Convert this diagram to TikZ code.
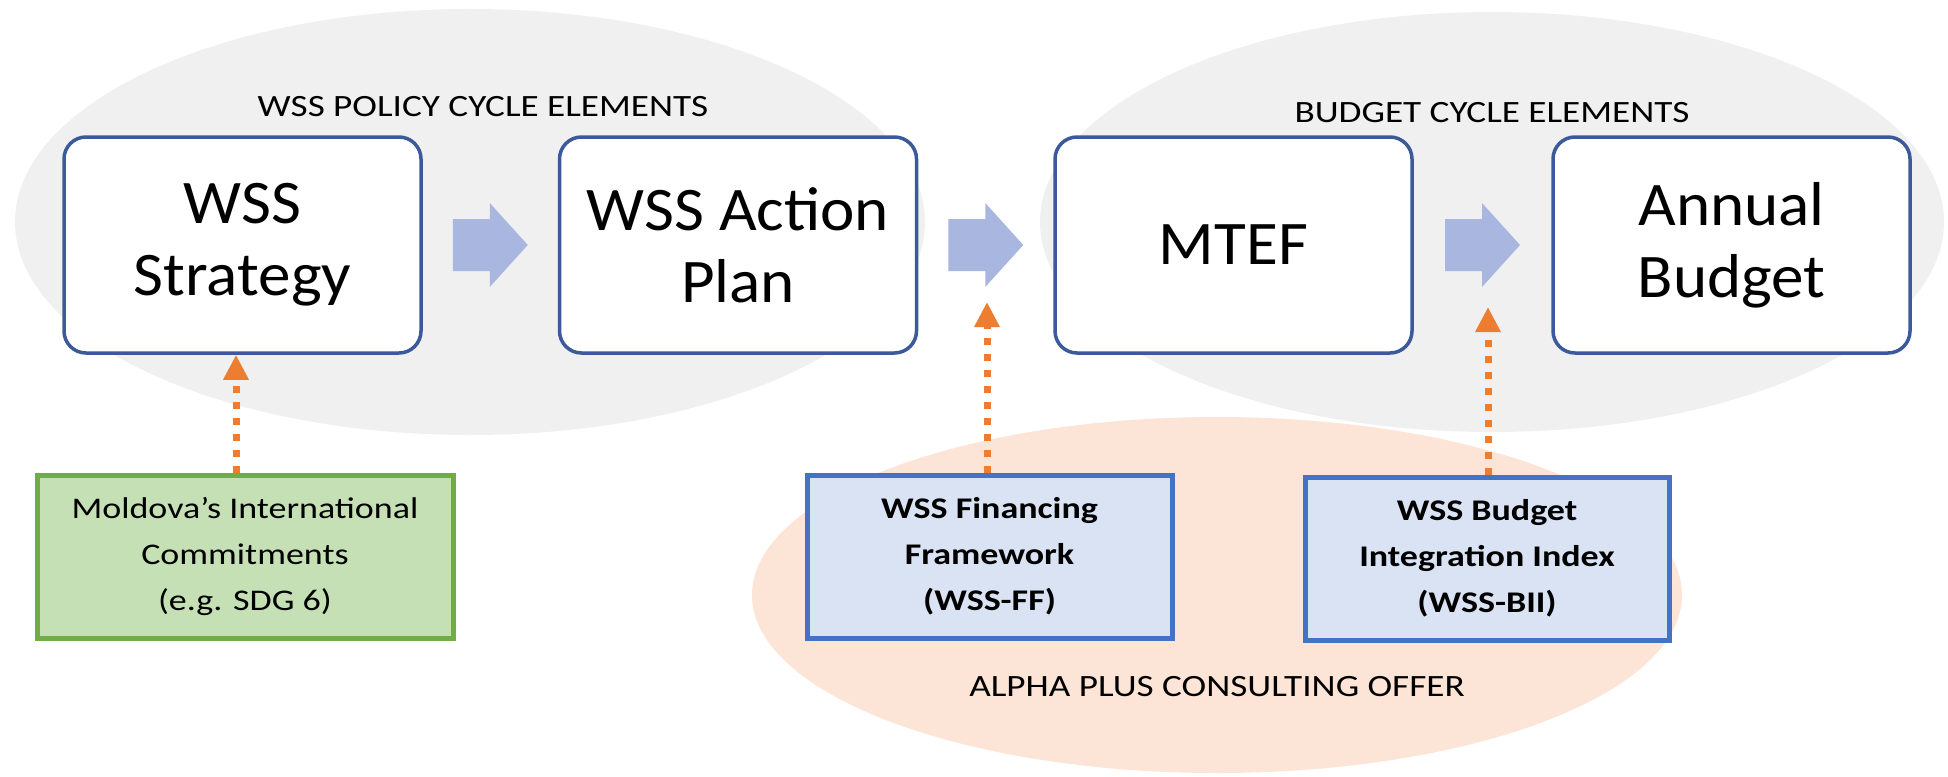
\documentclass[tikz,border=0pt]{standalone}
\usepackage{fontspec}
\setmainfont{Carlito}
\newfontfamily\widefont[FakeStretch=1.2]{Carlito}
\newfontfamily\bigfont[FakeStretch=1.05]{Carlito}
\usetikzlibrary{calc,arrows.meta}
\definecolor{greyell}{RGB}{240,240,240}
\definecolor{orangeell}{RGB}{252,228,214}
\definecolor{boxline}{RGB}{60,90,153}
\definecolor{arrowc}{RGB}{168,182,224}
\definecolor{orangec}{RGB}{237,125,49}
\definecolor{greenfill}{RGB}{197,224,180}
\definecolor{greenline}{RGB}{112,173,71}
\definecolor{bluefill}{RGB}{218,227,243}
\definecolor{blueline}{RGB}{68,114,196}
\newcommand\blockarrow[2]{%
  \fill[bigarrow] ($(#1.east)!0.5!(#2.west)$) ++(-37.5,-26) -- ++(37,0) -- ++(0,-16)
    -- ++(38,42) -- ++(-38,42) -- ++(0,-16) -- ++(-37,0) -- cycle;}
\begin{document}
\begin{tikzpicture}[x=1pt,y=-1pt,
  mainbox/.style={draw=boxline, line width=3.5pt, fill=white, rounded corners=22pt,
    minimum width=357pt, minimum height=216pt, align=center, inner sep=0pt,
    font=\bigfont\fontsize{62}{72}\selectfont},
  inputbox/.style={line width=5pt, align=center, inner sep=0pt,
    minimum height=163pt},
  greenbox/.style={inputbox, draw=greenline, fill=greenfill,
    font=\widefont\fontsize{30}{46}\selectfont},
  bluebox/.style={inputbox, draw=blueline, fill=bluefill,
    font=\widefont\bfseries\fontsize{30}{46}\selectfont},
  caption/.style={font=\widefont\fontsize{31}{36}\selectfont, inner sep=0pt},
  bigarrow/.style={fill=arrowc},
  dotarrow/.style={draw=orangec, line width=7pt, dash pattern=on 7pt off 9pt,
    -{Triangle[length=25pt,width=24pt]}}
]
\useasboundingbox (0,0) rectangle (1948,776);
\fill[white] (0,0) rectangle (1948,776);
% background ellipses
\fill[greyell] (470,222) ellipse [x radius=455, y radius=213];
\fill[greyell] (1492,222) ellipse [x radius=452, y radius=210];
\fill[orangeell] (1217,595) ellipse [x radius=465, y radius=178];
% captions
\node[caption] (cap1) at (483,107) {WSS POLICY CYCLE ELEMENTS};
\node[caption] (cap2) at (1492,113) {BUDGET CYCLE ELEMENTS};
\node[caption] (cap3) at (1217,687) {ALPHA PLUS CONSULTING OFFER};
% main boxes
\node[mainbox] (s1) at (242.5,245) {WSS\\Strategy};
\node[mainbox] (s2) at (738,245) {WSS Action\\Plan};
\node[mainbox] (s3) at (1233.5,245) {MTEF};
\node[mainbox] (s4) at (1731.5,245) {Annual\\Budget};
% block arrows
\blockarrow{s1}{s2}
\blockarrow{s2}{s3}
\blockarrow{s3}{s4}
% input boxes
\node[greenbox, minimum width=416pt] (mold) at (245,556.5) {Moldova’s International\\Commitments\\(e.g. SDG 6)};
\node[bluebox, minimum width=365pt] (ff) at (989.5,556.5) {WSS Financing\\Framework\\(WSS-FF)};
\node[bluebox, minimum width=364pt] (bii) at (1487,558.5) {WSS Budget\\Integration Index\\(WSS-BII)};
% dotted arrows
\coordinate (t2) at (987,302);
\coordinate (t3) at (1488,307);
\draw[dotarrow] ([xshift=-9pt]mold.north) -- ([xshift=-9pt]mold.north |- s1.south);
\draw[dotarrow] (ff.north -| t2) -- (t2);
\draw[dotarrow] (bii.north -| t3) -- (t3);
\end{tikzpicture}
\end{document}
